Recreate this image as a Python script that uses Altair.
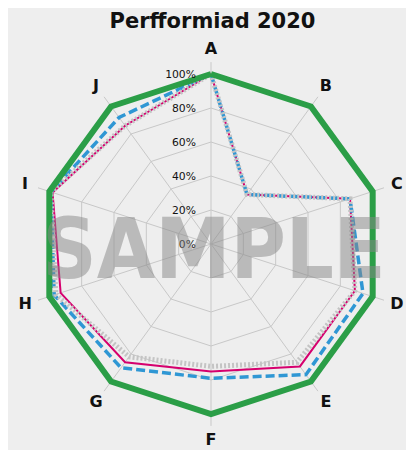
import altair as alt
import pandas as pd

categories = ["A", "B", "C", "D", "E", "F", "G", "H", "I", "J"]
target = [100, 100, 100, 100, 100, 100, 100, 100, 100, 100]
series_blue = [100, 36, 86, 94, 95, 79, 90, 97, 99, 92]
series_pink = [100, 36, 86, 89, 89, 75, 86, 93, 98, 86]
series_gray = [100, 36, 86, 89, 86, 72, 82, 96, 99, 86]
grid_levels = [0, 20, 40, 60, 80, 100]
tick_labels = ["0%", "20%", "40%", "60%", "80%", "100%"]
title_text = "Perfformiad 2020"
watermark = "SAMPLE"

N = len(categories)
W, H = 398, 442
R = 170.0
CX, CY = 203.0, 236.0

xs = alt.Scale(domain=[-CX / R, (W - CX) / R], nice=False, zero=False)
ys = alt.Scale(domain=[-(H - CY) / R, CY / R], nice=False, zero=False)


def closed(values):
    return pd.DataFrame({"i": list(range(N)) + [N], "v": list(values) + [values[0]]})


def polar(ch):
    return ch.transform_calculate(
        px=f"datum.v/100*sin(2*PI*datum.i/{N})",
        py=f"datum.v/100*cos(2*PI*datum.i/{N})",
    )


X = alt.X("px:Q", scale=xs, axis=None)
Y = alt.Y("py:Q", scale=ys, axis=None)

# grid polygons
grid_rows = []
for lv in grid_levels[1:]:
    for i in range(N + 1):
        grid_rows.append({"lv": lv, "i": i, "v": lv})
grid_df = pd.DataFrame(grid_rows)
grid = polar(alt.Chart(grid_df)).mark_line(color="#c8c8c8", strokeWidth=1).encode(
    x=X, y=Y, detail="lv:N", order="i:Q"
)

spoke_df = pd.DataFrame({"i": list(range(N)), "v": [107] * N})
spokes = polar(alt.Chart(spoke_df)).transform_calculate(ox="0", oy="0").mark_rule(
    color="#c8c8c8", strokeWidth=1
).encode(
    x=alt.X("ox:Q", scale=xs, axis=None),
    y=alt.Y("oy:Q", scale=ys, axis=None),
    x2="px:Q",
    y2="py:Q",
)


def series_line(values, **style):
    return polar(alt.Chart(closed(values))).mark_line(**style).encode(x=X, y=Y, order="i:Q")


pink = series_line(series_pink, color="#d6006e", strokeWidth=2)
blue = series_line(series_blue, color="#2f97d4", strokeWidth=3.5, strokeDash=[9, 4])
gray = series_line(series_gray, color="#c4c4c4", strokeWidth=5, strokeDash=[2, 2])
green = series_line(target, color="#2b9e47", strokeWidth=6)

lab_df = pd.DataFrame({"i": list(range(N)), "v": [115] * N, "c": categories})
cat_labels = polar(alt.Chart(lab_df)).mark_text(
    font="DejaVu Sans", fontWeight="bold", fontSize=16, color="#111111",
    align="center", baseline="middle",
).encode(x=X, y=Y, text="c:N")

tick_df = pd.DataFrame({"i": [0] * len(grid_levels), "v": grid_levels, "t": tick_labels})
ticks = polar(alt.Chart(tick_df)).mark_text(
    font="DejaVu Sans", fontSize=10.8, color="#111111",
    align="right", baseline="middle", dx=-15, dy=1,
).encode(x=X, y=Y, text="t:N")

wm = alt.Chart(pd.DataFrame({"t": [watermark]})).mark_text(
    font="DejaVu Sans Condensed", fontWeight="bold", fontSize=84, color="#888888",
    opacity=0.5, align="center", baseline="alphabetic",
).encode(x=alt.value(206), y=alt.value(270), text="t:N")

title = alt.Chart(pd.DataFrame({"t": [title_text]})).mark_text(
    font="DejaVu Sans", fontWeight="bold", fontSize=21, color="#111111",
    align="center", baseline="middle",
).encode(x=alt.value(204.5), y=alt.value(13.5), text="t:N")

chart = alt.layer(grid, spokes, pink, blue, gray, green, cat_labels, ticks, wm, title).properties(
    width=W, height=H, background="#eeeeee", padding=0,
    autosize=alt.AutoSizeParams(type="none"),
).configure_view(strokeWidth=0)

chart.save("out.html", embed_options={"renderer": "svg", "actions": False})
